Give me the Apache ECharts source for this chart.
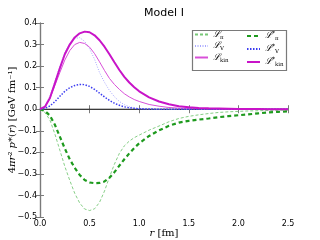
<!DOCTYPE html>
<html><head><meta charset="utf-8">
<script src="https://cdn.jsdelivr.net/npm/echarts@6/dist/echarts.min.js"></script>
<style>html,body{margin:0;padding:0;background:#fff}#c{width:320px;height:240px}</style>
</head><body><div id="c"></div>
<script>
const r       = [0,0.05,0.1,0.15,0.2,0.25,0.3,0.35,0.4,0.45,0.5,0.55,0.6,0.65,0.7,0.75,0.8,0.85,0.9,0.95,1.0,1.1,1.2,1.3,1.4,1.5,1.6,1.7,1.8,1.9,2.0,2.1,2.2,2.3,2.4,2.5];
const Lpi     = [0,-0.015,-0.05,-0.115,-0.19,-0.265,-0.33,-0.39,-0.435,-0.463,-0.47,-0.462,-0.432,-0.38,-0.315,-0.255,-0.205,-0.17,-0.148,-0.132,-0.12,-0.097,-0.078,-0.058,-0.043,-0.033,-0.026,-0.02,-0.015,-0.012,-0.01,-0.008,-0.007,-0.006,-0.005,-0.004];
const LpiS    = [0,-0.008,-0.03,-0.072,-0.127,-0.182,-0.232,-0.272,-0.305,-0.328,-0.34,-0.343,-0.342,-0.335,-0.318,-0.292,-0.262,-0.232,-0.205,-0.18,-0.158,-0.124,-0.098,-0.077,-0.062,-0.054,-0.048,-0.043,-0.037,-0.032,-0.028,-0.024,-0.019,-0.015,-0.012,-0.01];
const LV      = [0,0.015,0.06,0.13,0.2,0.262,0.305,0.328,0.332,0.315,0.28,0.232,0.17,0.125,0.087,0.058,0.036,0.021,0.012,0.006,0.003,0.001,0,0,0,0,0,0,0,0,0,0,0,0,0,0];
const LVS     = [0,0.004,0.015,0.035,0.06,0.083,0.1,0.11,0.115,0.114,0.106,0.092,0.075,0.057,0.041,0.028,0.018,0.011,0.007,0.004,0.002,0.001,0,0,0,0,0,0,0,0,0,0,0,0,0,0];
const Lkin    = [0,0.01,0.05,0.11,0.17,0.228,0.272,0.3,0.31,0.305,0.288,0.258,0.22,0.18,0.143,0.115,0.092,0.072,0.057,0.045,0.036,0.022,0.014,0.008,0.005,0.003,0.002,0.001,0.001,0,0,0,0,0,0,0];
const LkinS   = [0,0.012,0.052,0.12,0.19,0.255,0.3,0.333,0.352,0.36,0.357,0.343,0.32,0.29,0.255,0.218,0.182,0.15,0.124,0.102,0.083,0.055,0.036,0.023,0.014,0.009,0.006,0.004,0.003,0.002,0.001,0.001,0.001,0,0,0];
const xTicks = {min:0, max:2.5, interval:0.5};
const yTicks = {min:-0.5, max:0.4, interval:0.1};

const pts = a => r.map((x,i)=>[x,a[i]]);
const AX = '#7a7a7a';
const minus = v => String(v).replace('-', '\u2212');
const labelMap = {
  'pi':'{L|ℒ}{s|π}', 'V':'{L|ℒ}{s|V}', 'kin':'{L|ℒ}{s|kin}',
  'pi*':'{L|ℒ}{p|*}{s|π}', 'V*':'{L|ℒ}{p|*}{s|V}', 'kin*':'{L|ℒ}{p|*}{s|kin}'
};
const rich = {
  L:{fontFamily:'DejaVu Serif', fontStyle:'italic', fontSize:9, color:'#000', lineHeight:12},
  s:{fontFamily:'DejaVu Serif', fontSize:5.5, color:'#000', verticalAlign:'bottom', padding:[4,0,0,0]},
  p:{fontFamily:'DejaVu Serif', fontSize:6, color:'#000', verticalAlign:'top', padding:[0,0,4,0]}
};
const legendBase = {
  orient:'vertical', top:30, itemWidth:13, itemHeight:8, itemGap:1,
  itemStyle:{opacity:0},
  formatter: n => labelMap[n], textStyle:{rich:rich}, padding:0
};
const mk = (name,data,color,width,type) => ({
  name, type:'line', data:pts(data), symbol:'none', showSymbol:false, color,
  lineStyle:{color, width, type}, emphasis:{disabled:true}, animation:false, z:3
});
const nameFont = {fontFamily:'DejaVu Serif', fontSize:10, color:'#000', lineHeight:12,
  rich:{i:{fontFamily:'DejaVu Serif', fontStyle:'italic', fontSize:10, lineHeight:12}}};

const chart = echarts.init(document.getElementById('c'), null, {renderer:'canvas'});
chart.setOption({
  animation:false,
  title:{text:'Model I', left:164, textAlign:'center', top:8, padding:0,
    textStyle:{fontFamily:'DejaVu Sans', fontSize:11, fontWeight:'normal', color:'#000'}},
  grid:{left:40, right:32, top:23, bottom:23, containLabel:false, outerBoundsMode:'none'},
  legend:[
    Object.assign({left:194, data:['pi','V','kin']}, legendBase),
    Object.assign({left:246, data:['pi*','V*','kin*']}, legendBase)
  ],
  graphic:[{type:'rect', left:190, top:28, shape:{width:94, height:40},
    style:{fill:'none', stroke:AX, lineWidth:1.2}, z:10, silent:true}],
  xAxis:[
    {type:'value', min:xTicks.min, max:xTicks.max, interval:xTicks.interval,
     name:'{i|r} [fm]', nameLocation:'middle', nameGap:10, nameMoveOverlap:false, nameTextStyle:nameFont,
     axisLine:{lineStyle:{color:AX, width:1.2}}, axisTick:{inside:true, length:4, lineStyle:{color:AX}},
     axisLabel:{margin:3, fontFamily:'DejaVu Sans', fontSize:8, color:'#000', formatter:v=>v.toFixed(1)},
     splitLine:{show:false}},
    {type:'value', position:'top', min:xTicks.min, max:xTicks.max, interval:xTicks.interval,
     axisLine:{show:true, lineStyle:{color:AX, width:1.2}}, axisTick:{show:true, inside:true, length:4, lineStyle:{color:AX}},
     axisLabel:{show:false}, splitLine:{show:false}}
  ],
  yAxis:[
    {type:'value', min:yTicks.min, max:yTicks.max, interval:yTicks.interval,
     name:'4{i|πr}² {i|p}*({i|r}) [GeV fm⁻¹]', nameLocation:'middle', nameGap:22, nameMoveOverlap:false, nameTextStyle:nameFont,
     axisLine:{show:true, onZero:false, lineStyle:{color:AX, width:1.2}}, axisTick:{show:true, inside:true, length:4, lineStyle:{color:AX}},
     axisLabel:{margin:3, fontFamily:'DejaVu Sans', fontSize:8, color:'#000', formatter:v=>minus(v.toFixed(1))},
     splitLine:{show:false}},
    {type:'value', position:'right', min:yTicks.min, max:yTicks.max, interval:yTicks.interval,
     axisLine:{show:true, lineStyle:{color:AX, width:1.2}}, axisTick:{show:true, inside:true, length:4, lineStyle:{color:AX}},
     axisLabel:{show:false}, splitLine:{show:false}}
  ],
  series:[
    {name:'zero', type:'line', data:[[xTicks.min,0],[xTicks.max,0]], symbol:'none', silent:true,
     lineStyle:{color:'#222', width:1}, z:2, animation:false},
    mk('pi', Lpi, '#78c878', 0.9, [3,2]),
    mk('V', LV, '#a8a8ff', 1, [1,1.5]),
    mk('kin', Lkin, '#d850d8', 1, 'solid'),
    mk('pi*', LpiS, '#1e9a1e', 2.2, [4,3]),
    mk('V*', LVS, '#3c3cf0', 1.5, [1.5,1.5]),
    mk('kin*', LkinS, '#c814c8', 2, 'solid')
  ]
});
</script></body></html>
